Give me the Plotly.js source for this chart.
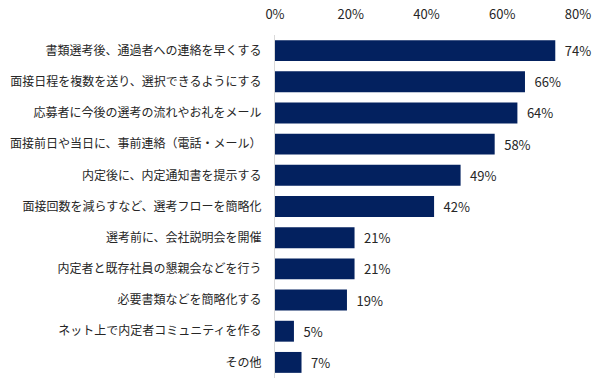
<!DOCTYPE html>
<html>
<head>
<meta charset="utf-8">
<script src="https://cdn.plot.ly/plotly-3.0.1.min.js"></script>
<style>html,body{margin:0;padding:0;background:#fff;}#chart{width:605px;height:386px;}</style>
</head>
<body>
<div id="chart"></div>
<script>
const categories = [
  "書類選考後、通過者への連絡を早くする",
  "面接日程を複数を送り、選択できるようにする",
  "応募者に今後の選考の流れやお礼をメール",
  "面接前日や当日に、事前連絡（電話・メール）",
  "内定後に、内定通知書を提示する",
  "面接回数を減らすなど、選考フローを簡略化",
  "選考前に、会社説明会を開催",
  "内定者と既存社員の懇親会などを行う",
  "必要書類などを簡略化する",
  "ネット上で内定者コミュニティを作る",
  "その他"
];
const values = [74, 66, 64, 58, 49, 42, 21, 21, 19, 5, 7];
const xTicks = [0, 20, 40, 60, 80];
const xTickLabels = ["0%", "20%", "40%", "60%", "80%"];

const font = "'Noto Sans CJK JP', 'Noto Sans', sans-serif";

Plotly.newPlot("chart", [{
  type: "bar",
  orientation: "h",
  x: values,
  y: categories,
  marker: {color: "#03215F"},
  width: 0.67,
  text: values.map(v => "\u2002" + v + "%"),
  textposition: "outside",
  textfont: {family: font, size: 13, color: "#262626"},
  cliponaxis: false,
  hoverinfo: "none"
}], {
  width: 605,
  height: 386,
  margin: {l: 275, r: 27, t: 35, b: 8},
  paper_bgcolor: "#fff",
  plot_bgcolor: "#fff",
  showlegend: false,
  font: {family: font, size: 12, color: "#262626"},
  xaxis: {
    side: "top",
    range: [0, 80],
    tickvals: xTicks,
    ticktext: xTickLabels,
    showgrid: false,
    zeroline: false,
    showline: false,
    ticks: "",
    ticklabelstandoff: 12,
    tickfont: {family: font, size: 13, color: "#262626"}
  },
  yaxis: {
    type: "category",
    autorange: "reversed",
    showgrid: false,
    zeroline: false,
    showline: true,
    linecolor: "#d9d9d9",
    linewidth: 1,
    ticks: "",
    ticklabelstandoff: 10,
    tickfont: {family: font, size: 12, color: "#262626"}
  }
}, {displayModeBar: false, staticPlot: true});
</script>
</body>
</html>
